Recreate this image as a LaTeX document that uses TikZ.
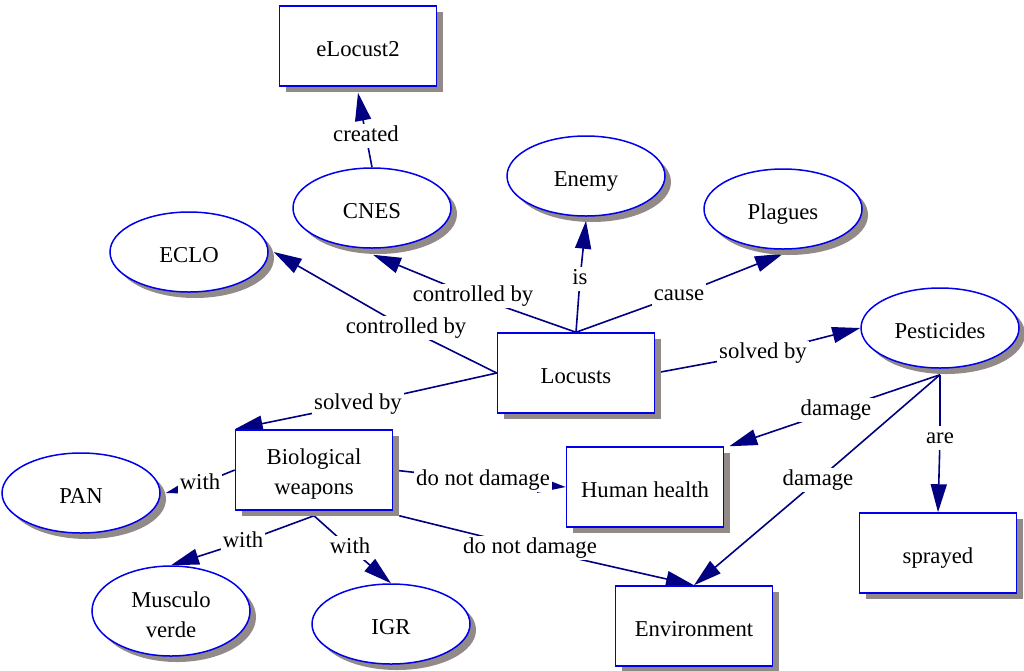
\documentclass[tikz,border=0pt]{standalone}
\usepackage{fontspec}
\setmainfont{Liberation Serif}
\usetikzlibrary{shapes.geometric,shadows,arrows.meta,calc}
\definecolor{nodeblue}{RGB}{0,0,235}
\definecolor{linknavy}{RGB}{0,0,128}
\definecolor{shadegray}{RGB}{146,137,137}
\pgfdeclarelayer{links}
\pgfsetlayers{links,main}

\begin{document}
\begin{tikzpicture}[x=1pt,y=-1pt,
  every node/.style={font=\fontsize{22.7}{30}\selectfont},
  concept/.style={draw=nodeblue, line width=1.5pt, fill=white, align=center,
    drop shadow={shadow xshift=6pt, shadow yshift=-6pt, fill=shadegray, opacity=1}},
  oneline/.style={text height=21pt, text depth=0pt},
  boxc/.style={concept, rectangle, minimum width=157pt, minimum height=80pt, inner sep=0pt},
  ovalc/.style={concept, ellipse, minimum width=158pt, minimum height=80pt, inner sep=0pt},
  linkword/.style={fill=white, inner sep=2pt, text height=15pt, text depth=5pt},
  link/.style={draw=linknavy, line width=1.6pt},
  arrowlink/.style={link, -{Triangle[length=28pt,width=16pt]}}
]
\useasboundingbox (0,0) rectangle (1024,670);

% concepts
\node[boxc, oneline]  (elocust) at (358,46)  {eLocust2};
\node[ovalc, oneline] (cnes)    at (372,208) {CNES};
\node[ovalc, oneline] (enemy)   at (586,176) {Enemy};
\node[ovalc, oneline] (plagues) at (783,209) {Plagues};
\node[ovalc, oneline] (eclo)    at (189,252) {ECLO};
\node[boxc, oneline]  (locusts) at (576,373) {Locusts};
\node[ovalc, oneline] (pest)    at (940,328) {Pesticides};
\node[boxc]           (bio)     at (314,470) {\rule{0pt}{23pt}Biological\\weapons};
\node[boxc, oneline]  (hh)      at (645,487) {Human health};
\node[ovalc, oneline] (pan)     at (81,493)  {PAN};
\node[ovalc, minimum height=90pt] (musc) at (171,611) {\rule{0pt}{23pt}Musculo\\verde};
\node[ovalc, oneline] (igr)     at (391,624) {IGR};
\node[boxc, oneline]  (env)     at (694,626) {Environment};
\node[boxc, oneline]  (sprayed) at (938,553) {sprayed};

% linking phrases
\node[linkword] (created) at (366,136) {created};
\node[linkword] (ctrla)   at (473,296) {controlled by};
\node[linkword] (ctrlb)   at (406,328) {controlled by};
\node[linkword] (is)      at (580,279) {is};
\node[linkword] (cause)   at (679,295) {cause};
\node[linkword] (solveda) at (763,353) {solved by};
\node[linkword] (solvedb) at (358,404) {solved by};
\node[linkword] (dmga)    at (836,410) {damage};
\node[linkword] (are)     at (940,438) {are};
\node[linkword] (dmgb)    at (818,480) {damage};
\node[linkword] (witha)   at (200,484) {with};
\node[linkword] (dnda)    at (483,480) {do not damage};
\node[linkword] (withb)   at (243,542) {with};
\node[linkword] (withc)   at (350,548) {with};
\node[linkword] (dndb)    at (530,548) {do not damage};

% connectors: source -> linking phrase -> target
\begin{pgfonlayer}{links}
\draw[link] (cnes.north) -- (created.center);
\draw[arrowlink] (created.center) -- ($(elocust.south)+(0,6)$);

\draw[link] (locusts.north) -- (ctrla.center);
\draw[arrowlink] (ctrla.center) -- ($(cnes.south)+(1,6)$);

\draw[link] (locusts.west) -- (ctrlb.center);
\draw[arrowlink] (ctrlb.center) -- ($(eclo.east)+(5,0)$);

\draw[link] (locusts.north) -- (is.center);
\draw[arrowlink] (is.center) -- ($(enemy.south)+(0,4)$);

\draw[link] (locusts.north) -- (cause.center);
\draw[arrowlink] (cause.center) -- ($(plagues.south)+(0,4)$);

\draw[link] (locusts.east) -- (solveda.center);
\draw[arrowlink] (solveda.center) -- (pest.west);

\draw[link] (locusts.west) -- (solvedb.center);
\draw[arrowlink] (solvedb.center) -- (bio.north west);

\draw[link] ($(pest.south)+(0,6)$) -- (dmga.center);
\draw[arrowlink] (dmga.center) -- ($(hh.north east)+(5,0)$);

\draw[link] ($(pest.south)+(0,6)$) -- (dmgb.center);
\draw[arrowlink] (dmgb.center) -- (env.north);

\draw[link] ($(pest.south)+(0,6)$) -- (are.center);
\draw[arrowlink] (are.center) -- (sprayed.north);

\draw[link] (bio.west) -- (witha.center);
\draw[arrowlink] (witha.center) -- ($(pan.east)+(5,0)$);

\draw[link] (bio.east) -- (dnda.center);
\draw[arrowlink] (dnda.center) -- (hh.west);

\draw[link] ($(bio.south)+(0,5)$) -- (withb.center);
\draw[arrowlink] (withb.center) -- (musc.north);

\draw[link] ($(bio.south)+(0,5)$) -- (withc.center);
\draw[arrowlink] (withc.center) -- (igr.north);

\draw[link] ($(bio.south east)+(6,5)$) -- (dndb.center);
\draw[arrowlink] (dndb.center) -- (env.north);
\end{pgfonlayer}
\end{tikzpicture}
\end{document}
